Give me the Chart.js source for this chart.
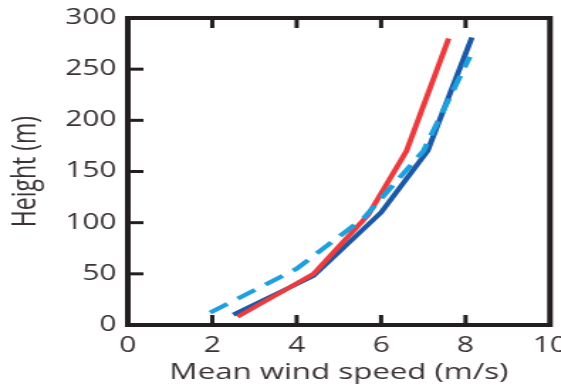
<!DOCTYPE html>
<html>
<head>
<meta charset="utf-8">
<script src="https://cdn.jsdelivr.net/npm/chart.js@4.4.0/dist/chart.umd.min.js"></script>
<style>
  html, body { margin: 0; padding: 0; background: #fff; overflow: hidden; }
  /* the source figure is stretched sideways, so the canvas is too */
  #wrap { width: 395px; height: 386px; transform: scaleX(1.42); transform-origin: 0 0; }
</style>
</head>
<body>
<div id="wrap"><canvas id="windChart"></canvas></div>
<script>
// wind profile: speed (m/s) vs height (m)
const redSpeed = [2.6, 4.4, 5.7, 6.6, 7.6];
const redHeight = [8, 50, 108, 170, 280];
const blueSpeed = [2.5, 4.4, 6.0, 7.1, 8.15];
const blueHeight = [10, 48, 110, 170, 281];
const dashSpeed = [1.95, 4.0, 5.6, 7.0, 8.1];
const dashHeight = [12, 55, 105, 170, 262];
const xTicks = [0, 2, 4, 6, 8, 10];
const yTicks = [0, 50, 100, 150, 200, 250, 300];

const ink = '#231f20';
const textCol = '#3a3234';
const fontFam = '"Open Sans", Lato, sans-serif';

const toPts = (xs, ys) => xs.map((x, i) => ({ x: x, y: ys[i] }));

// box + inward ticks, drawn from the chart's own scales
const frame = {
    id: 'frame',
    afterDatasetsDraw(chart) {
        const { ctx, chartArea: a, scales } = chart;
        ctx.save();
        ctx.strokeStyle = ink;
        ctx.lineWidth = 3;
        xTicks.slice(1, -1).forEach(v => {
            const px = scales.x.getPixelForValue(v);
            ctx.beginPath();
            ctx.moveTo(px, a.bottom); ctx.lineTo(px, a.bottom - 10);
            ctx.moveTo(px, a.top); ctx.lineTo(px, a.top + 10);
            ctx.stroke();
        });
        yTicks.slice(1, -1).forEach(v => {
            const py = scales.y.getPixelForValue(v);
            ctx.beginPath();
            ctx.moveTo(a.left, py); ctx.lineTo(a.left + 11, py);
            ctx.stroke();
        });
        ctx.lineWidth = 4;
        ctx.strokeRect(a.left, a.top, a.right - a.left, a.bottom - a.top);
        ctx.restore();
    }
};

new Chart(document.getElementById('windChart'), {
    type: 'line',
    data: {
        datasets: [
            {
                data: toPts(dashSpeed, dashHeight),
                borderColor: '#1fa0de',
                borderWidth: 4,
                borderDash: [15, 9],
                pointRadius: 0,
                tension: 0
            },
            {
                data: toPts(redSpeed, redHeight),
                borderColor: '#ec3b3f',
                borderWidth: 4,
                pointRadius: 0,
                tension: 0
            },
            {
                data: toPts(blueSpeed, blueHeight),
                borderColor: '#1b58a6',
                borderWidth: 4,
                pointRadius: 0,
                tension: 0
            }
        ]
    },
    options: {
        responsive: true,
        maintainAspectRatio: false,
        animation: false,
        layout: { padding: { top: 18, right: 7.7, left: 0, bottom: 0 } },
        plugins: { legend: { display: false }, tooltip: { enabled: false } },
        scales: {
            x: {
                type: 'linear',
                min: 0, max: 10,
                afterBuildTicks: s => { s.ticks = xTicks.map(v => ({ value: v })); },
                afterFit: s => { s.height = 61; s.paddingLeft = 0; s.paddingRight = 0; },
                grid: { display: false, drawTicks: false },
                border: { display: false },
                ticks: { color: textCol, padding: 8, font: { family: fontFam, size: 21 } },
                title: {
                    display: true, text: 'Mean wind speed (m/s)', color: textCol,
                    padding: { top: -6, bottom: 0 },
                    font: { family: fontFam, size: 22 }
                }
            },
            y: {
                type: 'linear',
                min: 0, max: 300,
                afterBuildTicks: s => { s.ticks = yTicks.map(v => ({ value: v })); },
                afterFit: s => { s.width = 90; s.paddingTop = 0; s.paddingBottom = 0; },
                grid: { display: false, drawTicks: false },
                border: { display: false },
                ticks: { color: textCol, padding: 8, font: { family: fontFam, size: 21 } },
                title: {
                    display: true, text: 'Height (m)', color: textCol,
                    padding: { top: 5, bottom: 0 },
                    font: { family: fontFam, size: 23 }
                }
            }
        }
    },
    plugins: [frame]
});
</script>
</body>
</html>
